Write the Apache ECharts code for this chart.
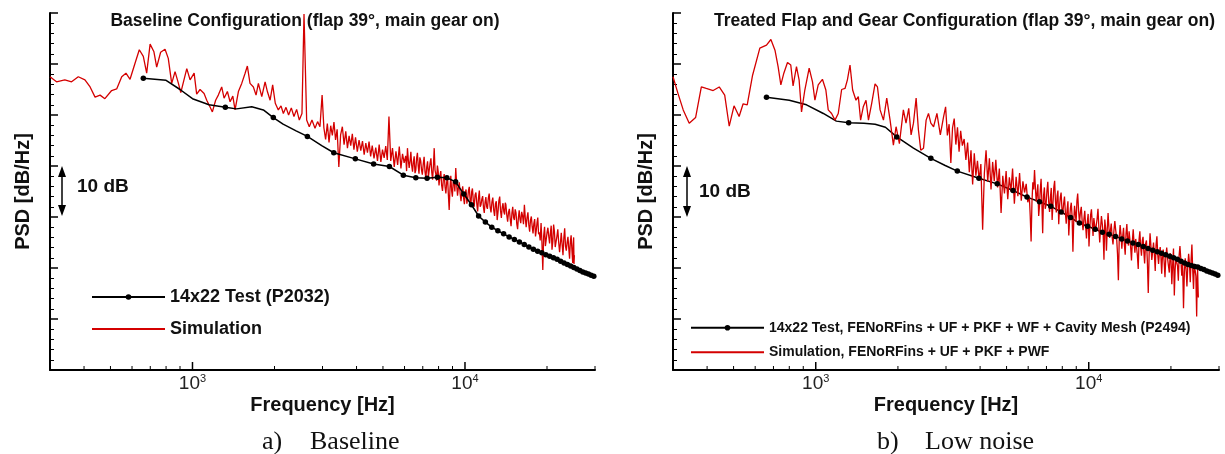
<!DOCTYPE html>
<html><head><meta charset="utf-8">
<script src="https://cdn.jsdelivr.net/npm/echarts@6/dist/echarts.min.js"></script>
<style>html,body{margin:0;padding:0;background:#fff}#c{width:1225px;height:454px}</style>
</head><body><div id="c"></div>
<script>
// ---------- DATA ----------
const panelTitles = ['Baseline Configuration (flap 39\u00b0, main gear on)', 'Treated Flap and Gear Configuration (flap 39\u00b0, main gear on)'];
const captionLetters = ['a)', 'b)'];
const captionWords = ['Baseline', 'Low noise'];
const testNames = ['14x22 Test (P2032)', '14x22 Test, FENoRFins + UF + PKF + WF + Cavity Mesh (P2494)'];
const simNames = ['Simulation', 'Simulation, FENoRFins + UF + PKF + PWF'];
const xLabelExponents = [3, 4];
const majorTicksHz = [1000, 10000];
const minorTicksHz = [400, 500, 600, 700, 800, 900, 2000, 3000, 4000, 5000, 6000, 7000, 8000, 9000, 20000, 30000];
const markerStepHz = 660;

// 14x22 test spectra [Hz, dB]
const testA = [[660,57.2],[800,56.8],[900,55.0],[1000,53.2],[1150,52.0],[1320,51.5],[1450,51.2],[1650,51.6],[1820,51.0],[1980,49.5],[2150,48.2],[2400,46.9],[2640,45.8],[2980,44.0],[3300,42.6],[3960,41.4],[4620,40.4],[5280,39.9],[5940,38.2],[6600,37.7],[7260,37.6],[7920,37.8],[8580,37.7],[9240,36.9],[9900,34.5],[10560,32.4],[11220,30.2],[11880,29.0],[12540,28.0],[13200,27.3],[13860,26.7],[14520,26.1],[15180,25.6],[15840,25.1],[16500,24.6],[17160,24.1],[17820,23.7],[18480,23.3],[19140,23.0],[19800,22.6],[20460,22.3],[21120,22.0],[21780,21.7],[22440,21.3],[23100,21.0],[23760,20.7],[24420,20.4],[25080,20.1],[25740,19.8],[26400,19.5],[27060,19.2],[27720,19.0],[28380,18.8],[29040,18.6],[29700,18.4]];
const testB = [[660,53.5],[800,52.9],[925,52.0],[1066,50.3],[1190,48.8],[1320,48.5],[1500,48.4],[1650,48.2],[1800,47.6],[1980,45.7],[2280,43.5],[2640,41.5],[2980,40.1],[3300,39.0],[3960,37.6],[4620,36.5],[5280,35.2],[5940,33.9],[6600,33.0],[7260,32.1],[7920,31.0],[8580,29.9],[9240,28.8],[9900,28.2],[10560,27.6],[11220,27.0],[11880,26.6],[12540,26.2],[13200,25.7],[13860,25.3],[14520,24.9],[15180,24.6],[15840,24.2],[16500,23.8],[17160,23.5],[17820,23.2],[18480,22.9],[19140,22.6],[19800,22.3],[20460,22.0],[21120,21.7],[21780,21.3],[22440,21.0],[23100,20.7],[23760,20.5],[24420,20.3],[25080,20.2],[25740,19.9],[26400,19.7],[27060,19.4],[27720,19.2],[28380,19.0],[29040,18.8],[29700,18.6]];

// simulation spectra, low-frequency part [Hz, dB]
const simALo = [[300,57.5],[317,56.5],[340,56.9],[360,56.5],[381,57.5],[403,56.9],[421,55.5],[439,53.5],[458,53.9],[477,53.2],[505,54.8],[527,55.1],[550,57.5],[570,58.2],[590,57.0],[615,60.1],[638,62.8],[660,61.5],[679,58.2],[699,63.9],[722,62.4],[739,59.4],[764,62.3],[793,62.9],[815,61.1],[839,56.2],[863,58.5],[888,56.2],[906,54.4],[953,59.1],[980,56.9],[1014,58.2],[1036,54.1],[1066,55.0],[1103,54.2],[1128,52.9],[1159,51.6],[1183,50.6],[1216,52.9],[1244,53.9],[1280,55.5],[1306,53.3],[1343,54.6],[1374,52.6],[1406,53.7],[1433,51.0],[1474,54.6],[1516,56.2],[1560,58.2],[1590,59.6],[1626,56.2],[1673,55.5],[1711,53.9],[1745,56.2],[1796,53.6],[1847,56.5],[1883,54.6],[1927,52.9],[1969,55.9],[2013,52.3],[2065,51.0],[2113,51.8],[2155,50.3],[2204,51.5],[2253,50.0],[2305,51.4],[2357,49.7],[2411,51.1],[2466,49.0],[2522,50.3],[2566,69.8],[2624,49.0],[2683,47.7],[2744,49.0],[2816,47.4],[2878,48.7],[2936,47.7]];
const simBLo = [[300,57.5],[313,54.2],[327,51.0],[344,48.4],[363,49.5],[381,55.5],[397,55.2],[421,54.8],[443,55.5],[464,53.9],[482,47.8],[502,51.8],[524,49.7],[542,52.2],[561,52.0],[587,57.8],[624,63.1],[660,63.7],[685,64.8],[709,62.7],[728,59.5],[745,55.9],[764,58.2],[788,60.3],[810,59.8],[826,55.7],[850,59.5],[869,56.9],[887,50.6],[912,54.9],[946,59.2],[973,56.5],[993,52.9],[1021,55.9],[1058,57.0],[1089,54.9],[1111,51.0],[1143,50.3],[1176,49.0],[1209,50.3],[1244,55.0],[1280,55.2],[1306,56.9],[1335,59.8],[1365,54.9],[1404,52.9],[1432,53.6],[1460,49.0],[1493,51.6],[1528,52.9],[1560,49.0],[1603,52.3],[1649,56.1],[1683,55.5],[1721,51.0],[1770,49.0],[1820,53.3],[1872,49.0],[1925,44.1],[1969,47.7],[2025,44.4],[2094,51.0],[2141,48.4],[2191,51.3],[2235,46.1],[2280,48.4],[2332,53.3],[2377,47.1],[2425,43.1],[2482,43.5],[2537,49.0],[2588,50.3],[2640,48.4],[2702,47.7],[2779,50.3],[2860,46.1],[2940,49.7]];

// simulation spectra, high-frequency part: shared frequencies and values
const simFreqHi = [2990,3035,3080,3125,3170,3215,3260,3305,3350,3395,
 3444,3496,3548,3600,3652,3704,3756,3808,3860,3912,
 3966,4026,4086,4146,4206,4266,4326,4386,4446,4506,
 4567,4636,4705,4774,4843,4912,4981,5050,5119,5188,
 5260,5340,5420,5500,5580,5660,5740,5820,5900,5980,
 6060,6150,6240,6330,6420,6510,6600,6690,6780,6880,
 6975,7080,7185,7290,7395,7500,7605,7710,7815,7920,
 8030,8150,8270,8390,8510,8630,8750,8870,8990,9110,
 9250,9390,9530,9670,9810,9950,10090,10230,10370,10510,
 10650,10810,10970,11130,11290,11450,11610,11770,11930,12090,
 12270,12460,12650,12840,13030,13220,13410,13600,13790,13980,
 14130,14340,14550,14760,14970,15180,15390,15600,15810,16020,
 16270,16520,16770,17020,17270,17520,17770,18020,18270,18500,
 18740,19020,19300,19590,19870,20150,20440,20720,21000,21290,
 21580,21910,22240,22560,22890,23220,23540,23870,24200,24520,
 24850,25050,25200];
const simAHi = [53.9,47.5,45.2,48.3,44.6,47.9,46.0,48.6,45.1,47.2,
 39.8,46.1,47.7,44.2,46.8,43.5,45.9,44.0,46.3,43.2,
 45.6,42.8,45.1,43.0,44.9,42.2,44.5,42.6,44.8,41.9,
 44.0,41.5,43.6,41.0,44.2,40.8,43.2,41.6,43.9,41.2,
 49.7,41.0,43.5,39.8,42.9,40.2,43.8,39.5,42.4,40.6,
 42.0,43.5,39.6,42.8,38.9,41.9,39.2,42.6,38.5,41.0,
 38.3,41.8,37.6,40.9,38.0,41.5,37.3,43.5,38.4,40.1,
 36.2,39.0,35.1,38.4,34.6,37.9,31.4,38.1,34.0,37.2,
 39.6,34.2,36.8,33.1,36.0,32.5,35.4,33.6,35.9,32.2,
 35.6,32.0,34.8,31.1,35.2,32.4,34.1,30.8,33.9,31.6,
 34.6,30.9,33.8,30.2,33.1,31.0,34.0,29.8,32.7,30.5,
 32.4,29.1,31.6,28.2,32.0,29.4,30.8,27.6,31.3,28.8,
 30.2,32.4,28.0,30.9,27.1,30.1,26.8,29.6,27.4,29.9,
 27.0,28.8,19.6,28.1,25.6,27.9,24.8,28.3,25.1,27.2,
 24.2,27.6,23.1,26.9,22.5,27.8,23.4,26.1,21.8,26.4,
 21.0,26.0,22.5];
const simBHi = [51.6,46.0,48.2,40.6,47.5,49.3,44.2,47.6,42.8,46.9,
 44.0,45.3,41.2,44.6,38.8,43.1,36.4,42.5,38.1,41.0,
 37.2,40.4,27.5,38.6,43.1,36.9,41.5,35.4,40.8,37.0,
 41.2,35.8,39.5,30.8,38.1,34.6,39.0,33.5,37.8,35.0,
 39.5,32.6,37.9,34.1,38.6,33.2,37.0,34.8,36.5,32.9,
 34.0,25.2,36.8,39.2,33.0,36.4,32.1,37.5,26.8,35.8,
 32.4,36.9,31.0,35.7,32.6,37.1,30.9,35.2,32.0,34.8,
 30.5,34.0,28.7,33.1,29.6,32.8,23.2,32.2,29.0,34.6,
 28.9,32.0,27.4,31.2,25.8,30.6,27.9,31.5,26.3,30.1,
 27.2,31.6,25.0,30.2,26.8,29.5,23.4,30.8,25.9,28.7,
 24.6,29.2,26.0,17.6,28.4,23.8,27.9,22.6,28.6,24.4,
 26.9,21.5,27.6,23.0,25.8,19.8,27.2,22.4,26.1,20.9,
 25.4,15.1,26.8,21.6,25.0,19.4,26.2,20.8,24.1,18.9,
 23.6,18.2,24.0,20.4,22.9,16.8,23.8,19.6,22.1,17.5,
 24.3,18.5,12.1,21.9,16.4,22.8,17.2,24.6,15.9,21.0,
 10.5,19.8,14.2];

// extra simulation samples between the ones above (dense upper band)
const simFreqMid = [6105,6195,6285,6375,6465,6555,6645,6735,6830,6928,
 7028,7133,7238,7343,7448,7553,7658,7763,7868,7975,
 8090,8210,8330,8450,8570,8690,8810,8930,9050,9180,
 9320,9460,9600,9740,9880,10020,10160,10300,10440,10580,
 10730,10890,11050,11210,11370,11530,11690,11850,12010,12180,
 12365,12555,12745,12935,13125,13315,13505,13695,13885,14055,
 14235,14445,14655,14865,15075,15285,15495,15705,15915,16145,
 16395,16645,16895,17145,17395,17645,17895,18145,18385,18620,
 18880,19160,19445,19730,20010,20295,20580,20860,21145,21435,
 21745,22075,22400,22725,23055,23380,23705,24035,24360,24685,
 24950,25125];
const simAMid = [39.0,41.2,40.9,40.1,40.8,38.6,41.5,40.0,41.7,39.2,
 40.4,38.9,39.8,37.9,40.6,38.8,39.9,39.2,37.1,38.9,
 38.0,36.2,37.4,35.9,36.9,34.4,35.6,35.2,36.8,35.0,
 36.4,35.8,34.6,34.9,33.8,34.7,32.6,35.2,33.4,34.9,
 33.2,34.3,32.6,33.8,32.0,33.5,31.9,32.9,32.0,33.7,
 32.0,32.9,31.4,32.6,29.4,33.2,31.2,31.9,31.0,32.8,
 30.4,30.9,29.6,30.7,29.9,31.5,28.6,29.9,29.6,31.0,
 28.6,29.8,29.9,28.5,29.4,28.1,28.7,26.2,28.9,26.6,
 25.4,25.0,26.3,24.3,27.0,26.2,26.9,23.6,28.5,24.1,
 26.2,25.0,24.9,24.6,25.9,24.3,25.0,23.9,25.2,23.5,
 24.4,20.8];
const simBMid = [30.1,33.0,35.4,35.9,34.6,30.2,35.4,32.9,34.1,31.6,
 35.1,33.0,33.8,29.4,35.8,33.0,34.1,28.6,33.9,31.7,
 32.6,30.9,31.4,26.4,31.8,30.1,29.1,30.6,33.1,31.2,
 30.9,29.2,29.6,28.3,29.0,24.2,30.4,28.8,29.8,27.1,
 29.6,28.0,27.9,28.6,21.6,27.8,27.6,28.1,27.4,26.1,
 27.3,27.4,22.8,25.9,26.6,26.2,24.6,26.8,25.5,27.2,
 24.2,25.3,24.8,25.7,22.4,25.6,24.1,25.3,23.2,24.7,
 21.3,22.9,24.3,23.2,22.7,24.6,22.6,23.0,22.1,22.3,
 21.4,22.1,21.9,19.1,21.8,20.7,14.6,21.9,20.4,22.5,
 21.7,20.9,19.2,19.8,20.3,20.9,21.5,19.6,20.8,18.4,
 17.3,16.6];

// ---------- BUILD ----------
const SANS = '"Liberation Sans", Arial, sans-serif';
const SERIF = '"Liberation Serif", "Times New Roman", serif';
const RED = '#d40000';
function buildSim(lo, hiVals, midVals) {
  const hi = simFreqHi.map((f, i) => [f, hiVals[i]])
    .concat(simFreqMid.map((f, i) => [f, midVals[i]]))
    .sort((a, b) => a[0] - b[0]);
  return lo.concat(hi);
}
const simA = buildSim(simALo, simAHi, simAMid);
const simB = buildSim(simBLo, simBHi, simBMid);
const tickData = minorTicksHz.map(f => [f, 0, 0]).concat(majorTicksHz.map(f => [f, 0, 1]));

const grids = [
  { left: 50, right: 630, top: 13, bottom: 84 },
  { left: 673, right: 6, top: 13, bottom: 84 }
];

function xAxis(i) {
  return {
    type: 'log', logBase: 10, gridIndex: i, min: 300, max: 30000,
    name: 'Frequency [Hz]', nameLocation: 'middle', nameGap: 25, nameMoveOverlap: false,
    nameTextStyle: { fontFamily: SANS, fontWeight: 'bold', fontSize: 20, color: '#111' },
    axisLine: { lineStyle: { color: '#000', width: 2 } },
    axisTick: { show: false }, minorTick: { show: false }, splitLine: { show: false },
    axisLabel: {
      margin: 3, showMinLabel: true, showMaxLabel: true, hideOverlap: false,
      formatter: v => {
        const e = Math.log10(v), r = Math.round(e);
        return (Math.abs(e - r) < 1e-6 && xLabelExponents.indexOf(r) >= 0) ? '{b|10}{s|' + r + '}' : '';
      },
      rich: {
        b: { fontFamily: SANS, fontSize: 19, color: '#222' },
        s: { fontFamily: SANS, fontSize: 11, color: '#222', padding: [0, 0, 10, 0] }
      }
    }
  };
}
function yAxis(i) {
  return {
    type: 'value', gridIndex: i, min: 0, max: 70, interval: 10,
    name: 'PSD [dB/Hz]', nameLocation: 'middle', nameGap: 17, nameMoveOverlap: false,
    nameTextStyle: { fontFamily: SANS, fontWeight: 'bold', fontSize: 20, color: '#111' },
    axisLine: { show: true, lineStyle: { color: '#000', width: 2 } },
    axisTick: { show: true, inside: true, length: 8, lineStyle: { color: '#000', width: 1.5 } },
    minorTick: { show: true, splitNumber: 5, length: 4, lineStyle: { color: '#000', width: 1 } },
    axisLabel: { show: false }, splitLine: { show: false }
  };
}
function testSeries(i, name, data) {
  return {
    type: 'line', name, xAxisIndex: i, yAxisIndex: i, data,
    symbol: 'circle', showAllSymbol: true,
    symbolSize: v => (v[0] % markerStepHz === 0 ? 5.5 : 0),
    lineStyle: { color: '#000', width: 1.5 }, itemStyle: { color: '#000' },
    animation: false, silent: true
  };
}
function simSeries(i, name, data) {
  return {
    type: 'line', name, xAxisIndex: i, yAxisIndex: i, data,
    symbol: 'none', showSymbol: false, sampling: null,
    lineStyle: { color: RED, width: 1.3 }, itemStyle: { color: RED },
    animation: false, silent: true
  };
}
function tickSeries(i) {
  return {
    type: 'custom', xAxisIndex: i, yAxisIndex: i, data: tickData, clip: false, silent: true, z: 10,
    encode: { x: 0, y: 1 },
    renderItem: (params, api) => {
      const p = api.coord([api.value(0), api.value(1)]);
      const len = api.value(2) === 1 ? 8 : 4;
      return { type: 'line', shape: { x1: p[0], y1: p[1], x2: p[0], y2: p[1] - len }, style: { stroke: '#000', lineWidth: api.value(2) === 1 ? 1.5 : 1 } };
    }
  };
}
function legend(i, left, top, fs, lh, gap) {
  return {
    data: [testNames[i], { name: simNames[i], itemStyle: { opacity: 0 } }], orient: 'vertical', left, top,
    itemWidth: 73, itemHeight: 7, itemGap: gap, selectedMode: false,
    textStyle: { fontFamily: SANS, fontWeight: 'bold', fontSize: fs, lineHeight: lh, color: '#111' }
  };
}
function arrow(x, y1, y2) {
  return [
    { type: 'line', shape: { x1: x, y1: y1 + 6, x2: x, y2: y2 - 6 }, style: { stroke: '#000', lineWidth: 1.5 } },
    { type: 'polygon', shape: { points: [[x, y1], [x - 4, y1 + 11], [x + 4, y1 + 11]] }, style: { fill: '#000' } },
    { type: 'polygon', shape: { points: [[x, y2], [x - 4, y2 - 11], [x + 4, y2 - 11]] }, style: { fill: '#000' } }
  ];
}
function txt(text, x, y, font, align) {
  return { type: 'text', x, y, style: { text, font, fill: '#111', align: align || 'left', verticalAlign: 'middle' } };
}

const chart = echarts.init(document.getElementById('c'), null, { renderer: 'canvas' });
chart.setOption({
  backgroundColor: '#fff',
  animation: false,
  grid: grids,
  xAxis: [xAxis(0), xAxis(1)],
  yAxis: [yAxis(0), yAxis(1)],
  legend: [legend(0, 86, 282, 18, 20, 12), legend(1, 685, 314.7, 14, 16, 8.6)],
  series: [
    simSeries(0, simNames[0], simA),
    testSeries(0, testNames[0], testA),
    testSeries(1, testNames[1], testB),
    simSeries(1, simNames[1], simB),
    tickSeries(0), tickSeries(1)
  ],
  graphic: [
    txt(panelTitles[0], 305, 21, 'bold 17.5px ' + SANS, 'center'),
    txt(panelTitles[1], 964.5, 21, 'bold 17.5px ' + SANS, 'center'),
    txt('10 dB', 77, 187, 'bold 19px ' + SANS),
    txt('10 dB', 699, 192, 'bold 19px ' + SANS),
    ...arrow(62, 166, 216),
    ...arrow(687, 166, 217),
    txt(captionLetters[0], 262, 442, '26px ' + SERIF),
    txt(captionWords[0], 310, 442, '26px ' + SERIF),
    txt(captionLetters[1], 877, 442, '26px ' + SERIF),
    txt(captionWords[1], 925, 442, '26px ' + SERIF)
  ]
});
</script>
</body></html>
